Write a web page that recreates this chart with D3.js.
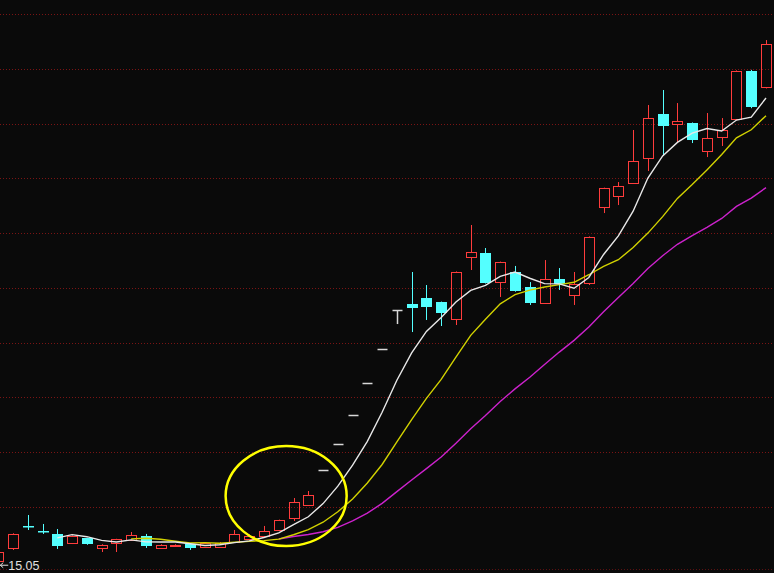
<!DOCTYPE html>
<html><head><meta charset="utf-8">
<script src="https://cdn.jsdelivr.net/npm/d3@7"></script>
<style>html,body{margin:0;padding:0;background:#0a0a0a;overflow:hidden}svg{display:block}</style>
</head><body><svg id="c" width="774" height="573"></svg>
<script>
// ---- data ----
const opens  = [15.10,16.26,18.30,17.85,17.54,16.71,17.17,16.26,16.71,16.99,17.35,16.26,16.50,16.62,16.35,16.35,16.81,17.08,17.35,17.90,19.00,20.18,23.38,25.75,28.40,31.32,34.42,37.98,38.53,39.08,38.71,37.16,42.82,43.18,40.53,41.45,40.08,38.62,40.81,39.35,40.44,47.38,48.39,49.57,51.85,55.87,54.96,55.05,52.49,53.77,55.41,59.79,58.33];
const highs  = [15.95,17.60,19.27,18.45,17.99,17.40,17.20,16.60,17.10,17.72,17.54,16.60,16.60,16.65,16.75,16.80,17.90,17.50,18.27,18.85,20.82,21.46,23.38,25.75,28.40,31.32,34.42,37.98,41.45,40.26,38.75,41.50,45.74,43.64,42.40,42.00,40.53,42.54,41.81,41.45,44.70,49.15,49.66,54.41,56.69,58.06,56.87,55.10,55.96,55.50,59.85,59.90,62.62];
const lows   = [15.05,16.08,17.90,17.54,16.17,16.62,16.55,15.89,15.89,16.95,16.26,16.20,16.45,16.08,16.30,16.30,16.78,17.00,17.30,17.85,18.72,20.10,23.38,25.75,28.40,31.32,34.42,36.70,35.97,37.07,36.52,36.61,41.63,40.40,39.17,39.65,38.44,38.55,39.81,38.44,40.26,46.83,47.56,49.50,50.67,52.04,53.31,53.22,51.94,52.95,55.30,56.40,58.20];
const closes = [15.89,17.54,18.25,17.80,16.44,17.35,16.62,16.53,17.08,17.44,16.44,16.53,16.53,16.26,16.71,16.71,17.54,17.35,17.81,18.81,20.46,21.10,23.38,25.75,28.40,31.32,34.42,37.98,38.16,38.25,37.71,41.45,43.27,40.44,42.36,39.71,38.62,40.81,40.35,40.35,44.64,49.12,49.30,51.58,55.50,54.77,55.23,53.50,53.68,54.41,59.79,56.50,62.26];
const ma5  = [null,null,null,null,17.18,17.48,17.29,16.95,16.80,17.00,16.82,16.80,16.80,16.64,16.49,16.55,16.75,16.91,17.22,17.64,18.39,19.11,20.31,21.90,23.82,25.99,28.65,31.57,34.06,36.03,37.30,38.71,39.77,40.22,41.05,41.45,40.88,40.39,40.37,39.97,40.95,43.05,44.75,47.00,50.03,52.05,53.28,54.12,54.54,54.32,55.32,55.58,57.33];
const ma10 = [null,null,null,null,null,null,null,null,null,17.09,17.15,17.05,16.88,16.72,16.75,16.69,16.78,16.86,16.93,17.07,17.47,17.93,18.61,19.56,20.73,22.19,23.88,25.94,27.98,29.92,31.65,33.68,35.67,37.14,38.54,39.38,39.80,40.08,40.30,40.51,41.20,41.97,42.57,43.68,45.00,46.50,48.17,49.43,50.77,52.17,53.69,54.43,55.72];
const ma20 = [null,null,null,null,null,null,null,null,null,null,null,null,null,null,null,null,null,null,null,17.08,17.31,17.49,17.74,18.14,18.74,19.44,20.33,21.40,22.46,23.50,24.56,25.81,27.14,28.35,29.63,30.78,31.84,33.01,34.14,35.21,36.42,37.82,39.12,40.41,41.77,42.94,43.98,44.76,45.53,46.34,47.44,48.20,49.15];
const gridPrices = [20,25,30,35,40,45,50,55,60,65];
const lowLabel = "15.05";
const lowIndex = 0;
// annotation ellipse (in data units: candle index / price)
const ringCenter = [19.5, 21.0];
const ringRadius = [4.1, 4.56];

// ---- drawing ----
const W = 774, H = 573;
const svg = d3.select("#c");
svg.append("rect").attr("width", W).attr("height", H).attr("fill", "#0a0a0a");

const x = d3.scaleLinear().domain([0, closes.length - 1]).range([-1.77, 766]);
const y = d3.scaleLinear().domain([13.976, 66.276]).range([H, 0]);

// grid
const g = svg.append("g");
g.selectAll("line.grid").data(gridPrices).join("line")
  .attr("x1", 0).attr("x2", W)
  .attr("y1", d => Math.round(y(d)) + 0.5).attr("y2", d => Math.round(y(d)) + 0.5)
  .attr("stroke", "#7a1414").attr("stroke-width", 1).attr("stroke-dasharray", "1,2");
g.append("line").attr("x1", 0).attr("x2", W).attr("y1", 569.5).attr("y2", 569.5)
  .attr("stroke", "#5a1010").attr("stroke-width", 1).attr("stroke-dasharray", "1,2");

const RED = "#ff3c3c", CYAN = "#54ffff", FLAT = "#d8d8d8";
const idx = d3.range(closes.length);
const cg = svg.append("g");
idx.forEach(i => {
  const cx = Math.round(x(i)) + 0.5;
  const o = opens[i], c = closes[i], h = highs[i], l = lows[i];
  const yo = y(o), yc = y(c), yh = y(h), yl = y(l);
  if (Math.abs(o - c) < 1e-9) {
    const col = FLAT;
    cg.append("line").attr("x1", cx - 5).attr("x2", cx + 5).attr("y1", Math.round(yc) + 0.5).attr("y2", Math.round(yc) + 0.5)
      .attr("stroke", col).attr("stroke-width", 1.5);
    if (yl - yh > 0.5) cg.append("line").attr("x1", cx).attr("x2", cx).attr("y1", yh).attr("y2", yl).attr("stroke", col).attr("stroke-width", 1.5);
  } else if (c > o) {
    const top = Math.round(yc), bot = Math.round(yo);
    cg.append("line").attr("x1", cx).attr("x2", cx).attr("y1", yh).attr("y2", top).attr("stroke", RED);
    cg.append("line").attr("x1", cx).attr("x2", cx).attr("y1", bot).attr("y2", yl).attr("stroke", RED);
    cg.append("rect").attr("x", cx - 5).attr("y", top + 0.5).attr("width", 10).attr("height", Math.max(1, bot - top))
      .attr("fill", "none").attr("stroke", RED).attr("stroke-width", 1);
  } else {
    const top = Math.round(yo), bot = Math.round(yc);
    cg.append("line").attr("x1", cx).attr("x2", cx).attr("y1", yh).attr("y2", yl).attr("stroke", CYAN);
    cg.append("rect").attr("x", cx - 5.5).attr("y", top).attr("width", 11).attr("height", Math.max(1.5, bot - top))
      .attr("fill", CYAN);
  }
});

// moving averages
const line = d3.line().defined(d => d[1] != null).x(d => x(d[0])).y(d => y(d[1]));
[[ma20, "#cc22cc"], [ma10, "#d2d200"], [ma5, "#e8e8e8"]].forEach(([arr, col]) => {
  svg.append("path").datum(arr.map((v, i) => [i, v]))
    .attr("d", line).attr("fill", "none").attr("stroke", col).attr("stroke-width", 1.4);
});

// lowest price marker
const ly = y(lows[lowIndex]) + 4;
const lx = x(lowIndex) + 2;
svg.append("path").attr("d", `M${lx},${ly}h8M${lx},${ly}l3,-2.5M${lx},${ly}l3,2.5`)
  .attr("stroke", "#e0e0e0").attr("fill", "none").attr("stroke-width", 1);
svg.append("text").attr("x", lx + 8).attr("y", ly + 4.5).text(lowLabel)
  .attr("fill", "#e0e0e0").attr("font-family", "Liberation Sans, Arial, sans-serif").attr("font-size", 12.5);

// annotation ring
svg.append("ellipse")
  .attr("cx", x(ringCenter[0])).attr("cy", y(ringCenter[1]))
  .attr("rx", x(ringCenter[0] + ringRadius[0]) - x(ringCenter[0]))
  .attr("ry", y(ringCenter[1] - ringRadius[1]) - y(ringCenter[1]))
  .attr("fill", "none").attr("stroke", "#ffff00").attr("stroke-width", 2.5);
</script>
</body></html>
